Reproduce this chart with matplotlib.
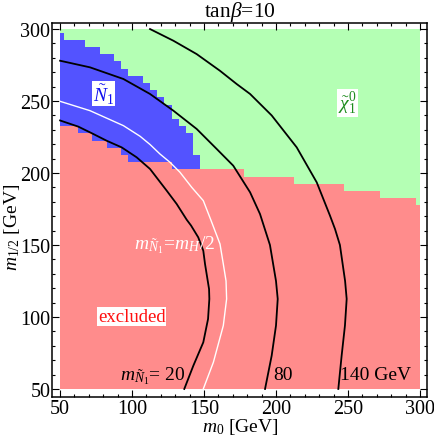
import numpy as np
import matplotlib
matplotlib.use("Agg")
import matplotlib.pyplot as plt
from matplotlib.colors import ListedColormap
from matplotlib.ticker import MultipleLocator

plt.rcParams["font.family"] = ["Liberation Serif", "DejaVu Serif"]
plt.rcParams["mathtext.fontset"] = "custom"
plt.rcParams["mathtext.rm"] = "Liberation Serif"
plt.rcParams["mathtext.it"] = "Liberation Serif:italic"
plt.rcParams["mathtext.bf"] = "Liberation Serif:bold"

# ---------------- data ----------------
m0_cols = list(range(50, 301, 5))
m12_rows = list(range(50, 301, 5))
# highest excluded (pink) cell in each m0 column
pink_top = [230, 230, 230, 225, 225, 220, 220, 215, 215, 210,
            205, 205, 205, 205, 205, 205, 200, 200, 200, 200,
            200, 200, 200, 200, 200, 200, 195, 195, 195, 195,
            195, 195, 195, 190, 190, 190, 190, 190, 190, 190,
            185, 185, 185, 185, 185, 180, 180, 180, 180, 180,
            175]
# highest sneutrino-LSP (blue) cell in each m0 column (0 = none)
blue_top = [295, 290, 290, 290, 285, 285, 280, 280, 275, 270,
            265, 265, 260, 255, 250, 245, 235, 230, 225, 210] + [0] * 31

# contour m_N1 = 20 GeV
c20_m0 = [50, 62.7, 73.1, 82.4, 92.8, 103.2, 112.5, 124.1, 131, 138, 141,
          146, 149.5, 150.7, 153.5, 153.7, 152.8, 149.5, 142.6, 136.3]
c20_m12 = [236.5, 232.2, 227.1, 222.4, 217.8, 210.9, 202.8, 187.7, 178.5, 167.5,
           163.5, 155.3, 146, 136.8, 119.4, 112.5, 98.6, 82.4, 66.2, 50]
# contour m_N1 = m_H/2
cH_m0 = [50, 70.8, 94, 105.6, 112.5, 119.4, 126.4, 133.3, 141.5, 149.5, 154.7,
         161.1, 163.4, 165.3, 165.7, 163.4, 156.5, 149.5]
cH_m12 = [249.8, 243.3, 232.9, 225.5, 219.8, 213.2, 207.4, 200.5, 190, 180.8, 167.5,
          150.7, 136.8, 125, 112.5, 94, 68.5, 50]
# contour m_N1 = 80 GeV
c80_m0 = [50, 70.8, 94, 112.5, 128.7, 144.9, 158.8, 170.3, 182, 188.9, 195.8,
          200, 201.2, 200, 197, 192.4]
c80_m12 = [278, 273.4, 265.3, 254.9, 243.3, 230.6, 216.7, 205.1, 186.6, 171.5, 150,
           125, 112.5, 94, 73.1, 50]
# contour m_N1 = 140 GeV
c140_m0 = [112.5, 128.7, 144.9, 161.1, 172.7, 182, 197, 214.4, 228.3, 237.5, 241,
           244.4, 248, 249.1, 247.9, 245.6, 243.3]
c140_m12 = [300, 291.9, 282.6, 271, 261.8, 254.9, 240, 217.8, 193.5, 170.4, 161.1,
            150, 125, 112.5, 94, 73.1, 50]

# ---------------- figure ----------------
W, H = 434, 439
fig = plt.figure(figsize=(W / 100, H / 100), dpi=100)
L, R, T, B = 52, 427, 24, 398
ax = fig.add_axes([L / W, 1 - B / H, (R - L) / W, (B - T) / H])

grid = np.zeros((len(m12_rows), len(m0_cols)))
for j, c in enumerate(m0_cols):
    for i, r in enumerate(m12_rows):
        if r <= pink_top[j]:
            grid[i, j] = 1
        elif r <= blue_top[j]:
            grid[i, j] = 2
        else:
            grid[i, j] = 3
xe = [m0_cols[0]] + [c + 2.5 for c in m0_cols[:-1]] + [m0_cols[-1]]
ye = [m12_rows[0]] + [r + 2.5 for r in m12_rows[:-1]] + [m12_rows[-1]]
cmap = ListedColormap(["white", "#FF8C8C", "#5353FF", "#B4FFB4"])
ax.pcolormesh(xe, ye, grid, cmap=cmap, vmin=-0.5, vmax=3.5, shading="flat",
              edgecolors="none", antialiased=False)

ax.plot(c20_m0, c20_m12, color="black", lw=1.3)
ax.plot(cH_m0, cH_m12, color="white", lw=1.0)
ax.plot(c80_m0, c80_m12, color="black", lw=1.3)
ax.plot(c140_m0, c140_m12, color="black", lw=1.3)

ax.set_xlim(44.4, 304.9)
ax.set_ylim(44.4, 304.2)
ax.xaxis.set_major_locator(MultipleLocator(50))
ax.yaxis.set_major_locator(MultipleLocator(50))
ax.xaxis.set_minor_locator(MultipleLocator(10))
ax.yaxis.set_minor_locator(MultipleLocator(10))
ax.tick_params(which="both", direction="in", top=True, right=True,
               labelsize=14.5, width=0.8, colors="black")
ax.tick_params(which="major", length=5)
ax.tick_params(which="minor", length=2.5)
ax.tick_params(axis="x", pad=1.5)
ax.tick_params(axis="y", pad=1.2)
for s in ax.spines.values():
    s.set_linewidth(1.1)

fs = 14
box = dict(facecolor="white", edgecolor="none", pad=0.6)
ax.text(80.2, 255.2, r"$\tilde{N}_1$", color="#1010F0", fontsize=fs,
        ha="center", va="center", bbox=box)
ax.text(249.7, 248.6, r"$\tilde{\chi}_1^0$", color="#1E8C1E", fontsize=fs,
        ha="center", va="center", bbox=box)
ax.text(99.7, 100.3, "excluded", color="#FF1010", fontsize=13.5,
        ha="center", va="center", bbox=box)
ax.text(129.9, 150.7, r"$m_{\tilde{N}_1}\!=\!m_H/2$", color="white", fontsize=fs,
        ha="center", va="center")
ax.text(114.6, 59.7, r"$m_{\tilde{N}_1}$= 20", color="black", fontsize=fs,
        ha="center", va="center")
ax.text(205.2, 59.7, "80", color="black", fontsize=fs, ha="center", va="center")
ax.text(269.1, 59.7, "140 GeV", color="black", fontsize=fs, ha="center", va="center")

fig.text(240 / W, 1 - 17.5 / H, r"tan$\beta$=10", fontsize=15.5, ha="center",
         va="baseline")
fig.text(240 / W, 1 - 432 / H, r"$m_0$ [GeV]", fontsize=14, ha="center",
         va="baseline")
fig.text(12.5 / W, 1 - 227 / H, r"$m_{1/2}$ [GeV]", fontsize=14, ha="center",
         va="center", rotation=90)

fig.savefig("out.png", dpi=100)
